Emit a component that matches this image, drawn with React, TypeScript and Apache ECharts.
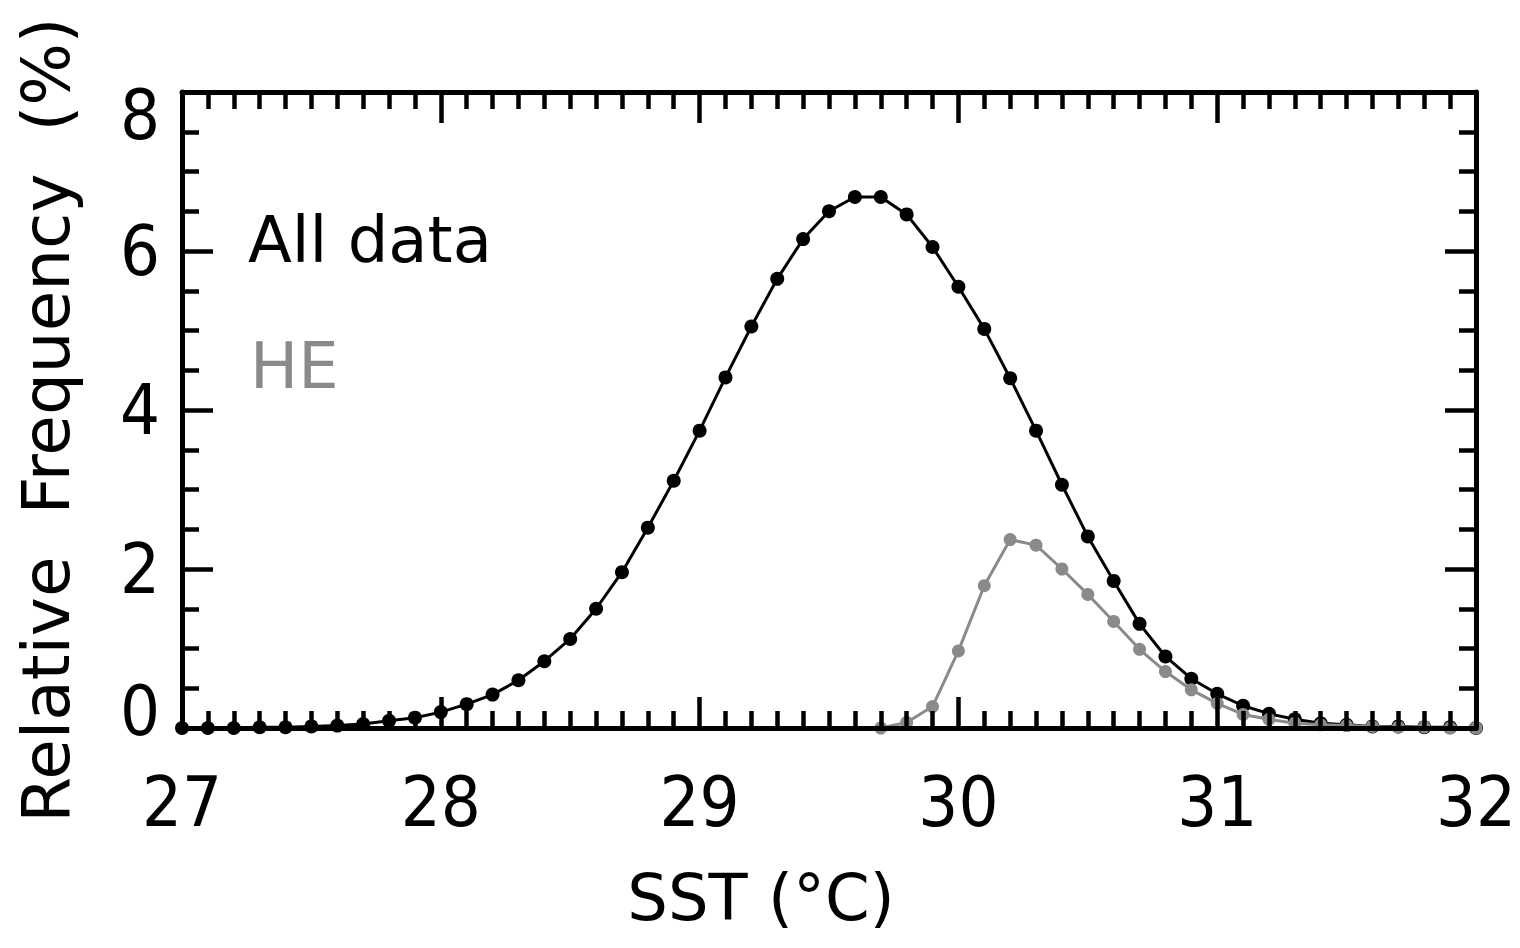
import React, { useEffect, useRef } from "react";
import * as echarts from "echarts";

const sstAll = [
  27.0, 27.1, 27.2, 27.3, 27.4, 27.5, 27.6, 27.7, 27.8, 27.9,
  28.0, 28.1, 28.2, 28.3, 28.4, 28.5, 28.6, 28.7, 28.8, 28.9,
  29.0, 29.1, 29.2, 29.3, 29.4, 29.5, 29.6, 29.7, 29.8, 29.9,
  30.0, 30.1, 30.2, 30.3, 30.4, 30.5, 30.6, 30.7, 30.8, 30.9,
  31.0, 31.1, 31.2, 31.3, 31.4, 31.5, 31.6, 31.7, 31.8, 31.9, 32.0,
];
const freqAll = [
  0.0, 0.0, 0.0, 0.01, 0.01, 0.02, 0.03, 0.05, 0.09, 0.13,
  0.2, 0.3, 0.42, 0.6, 0.84, 1.12, 1.5, 1.96, 2.52, 3.11,
  3.74, 4.41, 5.05, 5.65, 6.15, 6.5, 6.68, 6.68, 6.46, 6.05,
  5.55, 5.02, 4.4, 3.74, 3.06, 2.41, 1.85, 1.31, 0.9, 0.62,
  0.43, 0.28, 0.18, 0.11, 0.06, 0.04, 0.02, 0.02, 0.01, 0.01, 0.0,
];
const sstHE = [
  29.7, 29.8, 29.9, 30.0, 30.1, 30.2, 30.3, 30.4, 30.5, 30.6, 30.7, 30.8,
  30.9, 31.0, 31.1, 31.2, 31.3, 31.4, 31.5, 31.6, 31.7, 31.8, 31.9, 32.0,
];
const freqHE = [
  0.0, 0.07, 0.27, 0.97, 1.79, 2.37, 2.3, 2.0, 1.68, 1.34, 0.99, 0.71,
  0.48, 0.31, 0.17, 0.11, 0.06, 0.04, 0.03, 0.02, 0.01, 0.01, 0.0, 0.0,
];
const xTickLabels = ["27", "28", "29", "30", "31", "32"];
const yTickLabels = ["0", "2", "4", "6", "8"];
const legendLabels = ["All data", "HE"];
const xTitle = "SST (°C)";
const yTitle = "Relative  Frequency  (%)";

const BLACK = "#000000";
const GRAY = "#8a8a8a";
const DIGIT_FONT = "'Liberation Sans Narrow', 'DejaVu Sans Condensed', 'Liberation Sans', sans-serif";
const TEXT_FONT = "'DejaVu Sans', sans-serif";

export default function App() {
  const ref = useRef<HTMLDivElement>(null);
  useEffect(() => {
    document.body.style.margin = "0";
    if (!ref.current) return;
    const chart = echarts.init(ref.current, undefined, { renderer: "svg" });
    const xMin = Number(xTickLabels[0]);
    const xMax = Number(xTickLabels[xTickLabels.length - 1]);
    const yMin = Number(yTickLabels[0]);
    const yMax = Number(yTickLabels[yTickLabels.length - 1]);
    const lineW = 5;
    const tickCommon = {
      z: 5,
      axisLine: { show: true, onZero: false, lineStyle: { color: BLACK, width: lineW } },
      axisTick: { show: true, inside: true, length: 31, lineStyle: { color: BLACK, width: 4.5 } },
      splitLine: { show: false },
    };
    const xAxisBase = {
      type: "value",
      min: xMin,
      max: xMax,
      interval: 1,
      ...tickCommon,
      minorTick: { show: true, splitNumber: 10, length: 17, lineStyle: { color: BLACK, width: 4.5 } },
      minorSplitLine: { show: false },
    };
    const yAxisBase = {
      type: "value",
      min: yMin,
      max: yMax,
      interval: 2,
      ...tickCommon,
      minorTick: { show: true, splitNumber: 4, length: 17, lineStyle: { color: BLACK, width: 4.5 } },
      minorSplitLine: { show: false },
    };
    const digitStyle = { fontSize: 70, fontFamily: DIGIT_FONT, color: BLACK };
    chart.setOption({
      animation: false,
      backgroundColor: "#ffffff",
      grid: { left: 182, top: 92, right: 44, bottom: 220, containLabel: false },
      xAxis: [
        {
          ...xAxisBase,
          position: "bottom",
          axisLabel: {
            show: true,
            margin: 39,
            ...digitStyle,
            formatter: (v: number) => {
              const s = String(Math.round(v));
              return xTickLabels.includes(s) ? s : "";
            },
          },
        },
        { ...xAxisBase, position: "top", axisLabel: { show: false } },
      ],
      yAxis: [
        {
          ...yAxisBase,
          position: "left",
          axisLabel: {
            show: true,
            margin: 22,
            formatter: (v: number) => {
              const s = String(Math.round(v));
              if (!yTickLabels.includes(s)) return "";
              if (s === yTickLabels[0]) return "{lo|" + s + "}";
              if (s === yTickLabels[yTickLabels.length - 1]) return "{hi|" + s + "}";
              return "{n|" + s + "}";
            },
            rich: {
              n: { ...digitStyle },
              lo: { ...digitStyle, padding: [0, 0, 34, 0] },
              hi: { ...digitStyle, padding: [46, 0, 0, 0] },
            },
          },
        },
        { ...yAxisBase, position: "right", axisLabel: { show: false } },
      ],
      series: [
        {
          name: legendLabels[0],
          type: "line",
          xAxisIndex: 0,
          yAxisIndex: 0,
          data: sstAll.map((x, i) => [x, freqAll[i]]),
          symbol: "circle",
          symbolSize: 14,
          showSymbol: true,
          itemStyle: { color: BLACK },
          lineStyle: { color: BLACK, width: 3 },
          z: 2,
        },
        {
          name: legendLabels[1],
          type: "line",
          xAxisIndex: 0,
          yAxisIndex: 0,
          data: sstHE.map((x, i) => [x, freqHE[i]]),
          symbol: "circle",
          symbolSize: 13,
          showSymbol: true,
          itemStyle: { color: GRAY },
          lineStyle: { color: GRAY, width: 3 },
          z: 3,
        },
      ],
      graphic: [
        {
          type: "text",
          left: 248,
          top: 208,
          style: { text: legendLabels[0], fontSize: 64, fontFamily: TEXT_FONT, fill: BLACK },
        },
        {
          type: "text",
          left: 250,
          top: 334,
          style: { text: legendLabels[1], fontSize: 64, fontFamily: TEXT_FONT, fill: GRAY },
        },
        {
          type: "text",
          x: 761,
          y: 898,
          style: {
            text: xTitle,
            fontSize: 64,
            fontFamily: TEXT_FONT,
            fill: BLACK,
            align: "center",
            verticalAlign: "middle",
          },
        },
        {
          type: "text",
          x: 46,
          y: 420,
          rotation: Math.PI / 2,
          style: {
            text: yTitle,
            fontSize: 66,
            fontFamily: TEXT_FONT,
            fill: BLACK,
            align: "center",
            verticalAlign: "middle",
          },
        },
      ],
    });
    return () => chart.dispose();
  }, []);
  return <div ref={ref} style={{ width: 1520, height: 948 }} />;
}
